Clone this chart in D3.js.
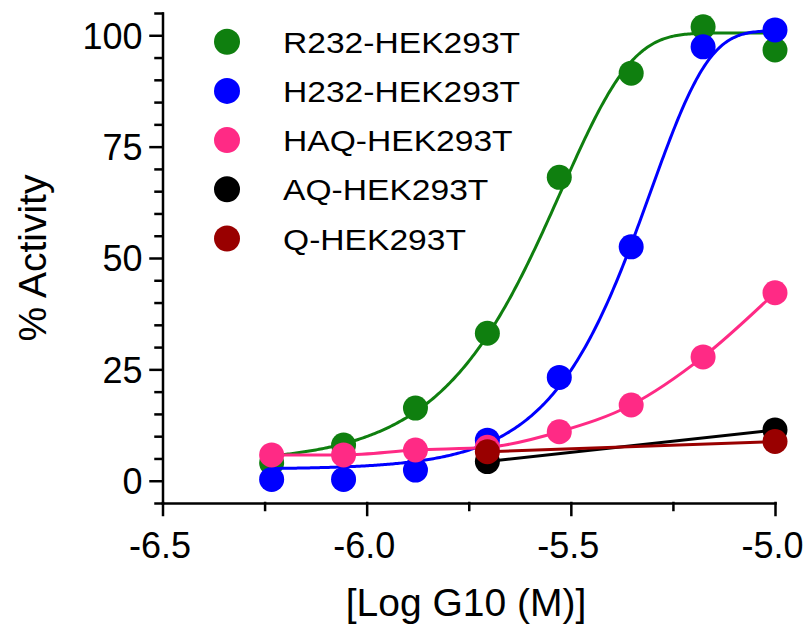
<!DOCTYPE html>
<html><head><meta charset="utf-8">
<script src="https://cdn.jsdelivr.net/npm/d3@7"></script>
<style>body{margin:0;background:#fff}</style>
</head><body><svg id="c" width="811" height="630"></svg>
<script>
// ---- data (log10 molar G10 concentration vs % activity) ----
const logConc = [-6.2327, -6.0566, -5.8805, -5.7044, -5.5283, -5.3522, -5.1761, -5.0];
const r232 = [4.0, 8.0, 16.3, 33.1, 68.1, 91.5, 101.9, 96.7];
const h232 = [0.3, 0.3, 2.4, 9.1, 23.2, 52.5, 97.4, 101.2];
const haq  = [5.8, 5.8, 6.9, 7.5, 11.0, 17.0, 27.8, 42.2];
const aqConc = [-5.7044, -5.0];
const aq = [4.3, 11.4];
const qConc = [-5.7044, -5.0];
const q = [6.5, 8.8];
const seriesNames = ["R232-HEK293T", "H232-HEK293T", "HAQ-HEK293T", "AQ-HEK293T", "Q-HEK293T"];
const seriesColors = ["#0f7f0f", "#0000ff", "#ff2a85", "#000000", "#990000"];
const xTicks = [-6.5, -6.0, -5.5, -5.0];
const yTicks = [0, 25, 50, 75, 100];
// estimated asymmetric sigmoid fit parameters: [bottom, top, logX0, k]
const r232Fit = [4, 100.5, -5.524, 5.8];
const h232Fit = [2.6, 101, -5.305, 7];

const svg = d3.select("#c");
const x = d3.scaleLinear().domain([-6.5, -5.0]).range([162.5, 775]);
const y = d3.scaleLinear().domain([-5, 105]).range([503, 13]);
const FONT = "'Liberation Sans', Arial, Helvetica, sans-serif";

// ---- axes ----
const gx = svg.append("g").attr("transform", "translate(0,503)");
gx.call(d3.axisBottom(x).tickValues(xTicks).tickSize(12).tickSizeOuter(0).tickFormat(d => d.toFixed(1)));
const gxm = svg.append("g").attr("transform", "translate(0,503)");
gxm.call(d3.axisBottom(x).tickValues([-6.25, -5.75, -5.25]).tickSize(7).tickFormat(""));
gxm.select(".domain").remove();

const gy = svg.append("g").attr("transform", "translate(162.5,0)");
gy.call(d3.axisLeft(y).tickValues(yTicks).tickSize(12).tickSizeOuter(0).tickFormat(d => String(d)));
const gym = svg.append("g").attr("transform", "translate(162.5,0)");
gym.call(d3.axisLeft(y).tickValues(d3.range(-5, 106, 5).filter(v => v % 25 !== 0)).tickSize(7).tickFormat(""));
gym.select(".domain").remove();

svg.selectAll(".domain, .tick line").attr("stroke", "#000").attr("stroke-width", 2.5).attr("stroke-linecap", "square");
gx.selectAll(".tick text").attr("font-family", FONT).attr("font-size", 36).attr("fill", "#000")
  .attr("y", 55).attr("dy", 0).attr("dx", -3);
gy.selectAll(".tick text").attr("font-family", FONT).attr("font-size", 36).attr("fill", "#000")
  .attr("x", -20).attr("dy", "0.36em");

svg.append("text").attr("x", 466).attr("y", 616).attr("text-anchor", "middle")
  .attr("font-family", FONT).attr("font-size", 39).text("[Log G10 (M)]");
svg.append("text").attr("transform", "translate(46,258) rotate(-90)").attr("text-anchor", "middle")
  .attr("font-family", FONT).attr("font-size", 39).text("% Activity");

// ---- series ----
const fitCurve = p => xv => p[0] + (p[1] - p[0]) * (1 - Math.exp(-Math.exp(p[3] * (xv - p[2]))));
const fitXs = d3.range(logConc[0], logConc[logConc.length - 1] + 1e-9, 0.004);
const lineGen = d3.line().x(d => x(d[0])).y(d => y(d[1]));

function drawSeries(pts, curvePts, color, curveType) {
  svg.append("path").datum(curvePts)
    .attr("d", lineGen.curve(curveType)(curvePts))
    .attr("fill", "none").attr("stroke", color).attr("stroke-width", 3);
  svg.append("g").selectAll("circle").data(pts).join("circle")
    .attr("cx", d => x(d[0])).attr("cy", d => y(d[1])).attr("r", 12.5).attr("fill", color);
}

const rPts = logConc.map((c, i) => [c, r232[i]]);
const hPts = logConc.map((c, i) => [c, h232[i]]);
const haqPts = logConc.map((c, i) => [c, haq[i]]);
const aqPts = aqConc.map((c, i) => [c, aq[i]]);
const qPts = qConc.map((c, i) => [c, q[i]]);

const rFit = fitCurve(r232Fit), hFit = fitCurve(h232Fit);
drawSeries(rPts, fitXs.map(v => [v, rFit(v)]), seriesColors[0], d3.curveLinear);
drawSeries(hPts, fitXs.map(v => [v, hFit(v)]), seriesColors[1], d3.curveLinear);
drawSeries(haqPts, haqPts, seriesColors[2], d3.curveMonotoneX);
drawSeries(aqPts, aqPts, seriesColors[3], d3.curveLinear);
drawSeries(qPts, qPts, seriesColors[4], d3.curveLinear);

// ---- legend ----
const leg = svg.append("g");
seriesNames.forEach((name, i) => {
  const cy = 41.7 + i * 49.2;
  leg.append("circle").attr("cx", 227).attr("cy", cy).attr("r", 13).attr("fill", seriesColors[i]);
  leg.append("text").attr("transform", `translate(283,${cy + 11}) scale(1.12,1)`)
    .attr("font-family", FONT).attr("font-size", 30).attr("fill", "#000").text(name);
});
</script></body></html>
